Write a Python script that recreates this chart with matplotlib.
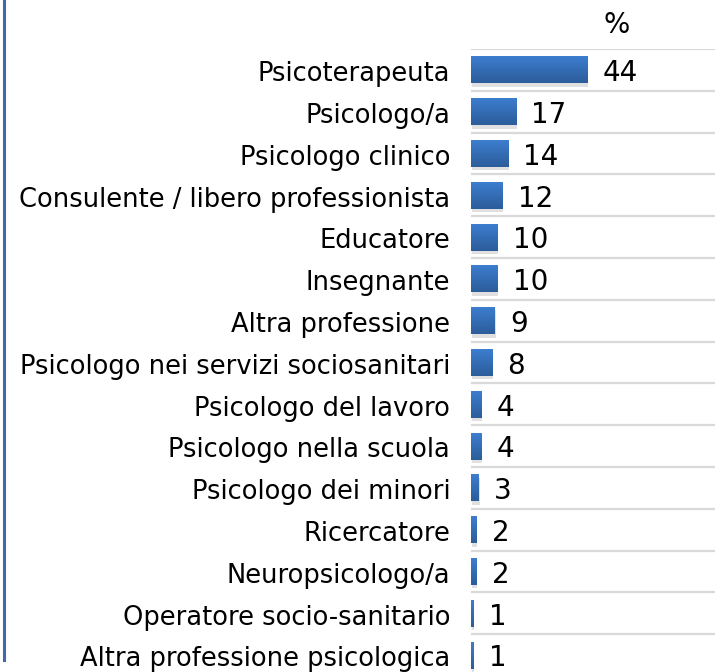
import matplotlib
matplotlib.use('Agg')
import matplotlib.pyplot as plt
import numpy as np
from matplotlib.lines import Line2D

categories = ['Psicoterapeuta', 'Psicologo/a', 'Psicologo clinico',
              'Consulente / libero professionista', 'Educatore', 'Insegnante',
              'Altra professione', 'Psicologo nei servizi sociosanitari',
              'Psicologo del lavoro', 'Psicologo nella scuola',
              'Psicologo dei minori', 'Ricercatore', 'Neuropsicologo/a',
              'Operatore socio-sanitario', 'Altra professione psicologica']
values = [44, 17, 14, 12, 10, 10, 9, 8, 4, 4, 3, 2, 2, 1, 1]
unit = '%'

plt.rcParams['font.family'] = ['DejaVu Sans']

W, H = 715, 672
fig = plt.figure(figsize=(W / 100, H / 100), dpi=100)
# axes box in pixels: left 471, top 49, rows ~42 px high
left, top, rowh = 471, 49, 41.8
n = len(categories)
ax = fig.add_axes([left / W, (H - top - rowh * n) / H, (W - left) / W, rowh * n / H])
ax.set_xlim(0, (W - left) / 2.65)
ax.set_ylim(n - 0.5, -0.5)
ax.axis('off')

# gridlines at row boundaries
for b in np.arange(-0.5, n, 1.0):
    ax.axhline(b, color='#d9d9d9', lw=1.6, zorder=0)

grad = np.linspace(0, 1, 64).reshape(-1, 1)
cmap = matplotlib.colors.LinearSegmentedColormap.from_list('b', ['#3d7fd1', '#2c5c9a'])
ypos = np.arange(n)
bh = 0.65
# soft shadow
ax.barh(ypos + 0.08, values, height=bh, left=0.25, color='#000000', alpha=0.12, zorder=1)
bars = ax.barh(ypos, values, height=bh, color='#3470bd', zorder=2)
for b in bars:
    x0, y0 = b.get_x(), b.get_y()
    im = ax.imshow(grad, cmap=cmap, aspect='auto', zorder=3,
                   extent=(x0, x0 + b.get_width(), y0 + b.get_height(), y0))
    im.set_clip_path(b)

for i, (c, v) in enumerate(zip(categories, values)):
    ax.annotate(c, xy=(0, i), xytext=(-15, -8.2), textcoords='offset points',
                ha='right', va='baseline', fontsize=18.5, color='#000000',
                annotation_clip=False)
    ax.annotate(str(v), xy=(v, i), xytext=(11, -8.2), textcoords='offset points',
                ha='left', va='baseline', fontsize=20, color='#000000',
                annotation_clip=False)

fig.text(617 / W, 1 - 33 / H, unit, ha='center', va='baseline', fontsize=20)
fig.add_artist(Line2D([3.5 / W, 3.5 / W], [1, 1 - 660 / H], color='#4466ad', lw=2.2,
                      transform=fig.transFigure))

fig.savefig('out.png', dpi=100)
